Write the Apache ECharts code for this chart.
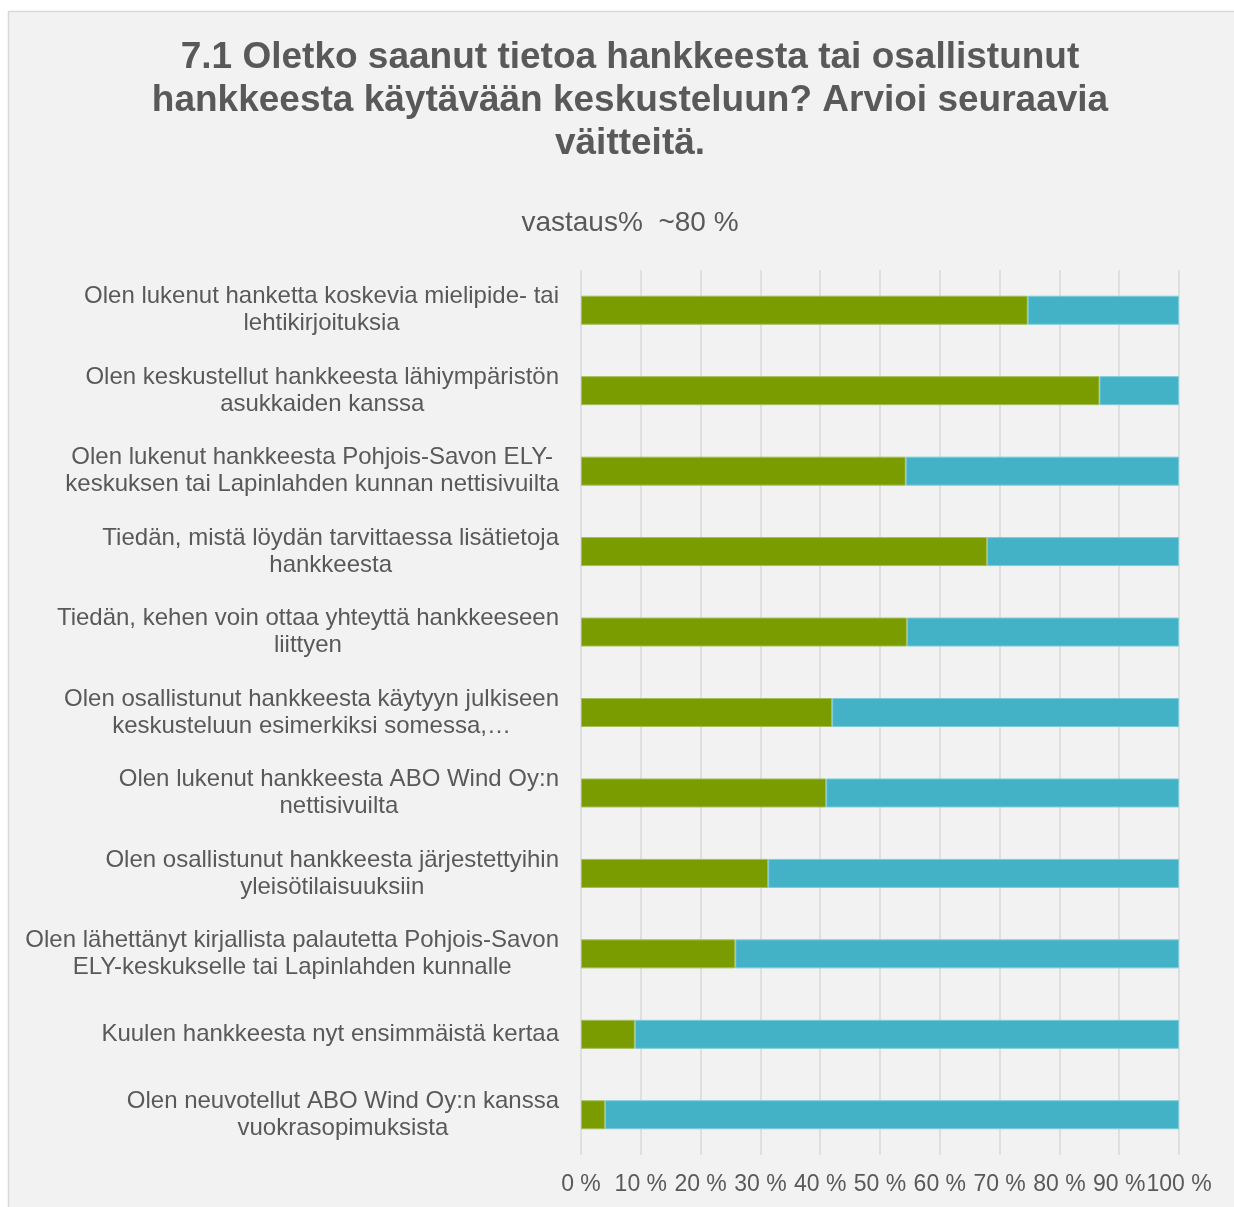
<!DOCTYPE html>
<html><head><meta charset="utf-8">
<script src="https://cdn.jsdelivr.net/npm/echarts@6/dist/echarts.min.js"></script>
<style>html,body{margin:0;padding:0;background:#fff;}#c{width:1234px;height:1207px;}</style>
</head><body><div id="c"></div>
<script>
const categories = [
  "Olen lukenut hanketta koskevia mielipide- tai\nlehtikirjoituksia",
  "Olen keskustellut hankkeesta lähiympäristön\nasukkaiden kanssa",
  "Olen lukenut hankkeesta Pohjois-Savon ELY-\nkeskuksen tai Lapinlahden kunnan nettisivuilta",
  "Tiedän, mistä löydän tarvittaessa lisätietoja\nhankkeesta",
  "Tiedän, kehen voin ottaa yhteyttä hankkeeseen\nliittyen",
  "Olen osallistunut hankkeesta käytyyn julkiseen\nkeskusteluun esimerkiksi somessa,…",
  "Olen lukenut hankkeesta ABO Wind Oy:n\nnettisivuilta",
  "Olen osallistunut hankkeesta järjestettyihin\nyleisötilaisuuksiin",
  "Olen lähettänyt kirjallista palautetta Pohjois-Savon\nELY-keskukselle tai Lapinlahden kunnalle",
  "Kuulen hankkeesta nyt ensimmäistä kertaa",
  "Olen neuvotellut ABO Wind Oy:n kanssa\nvuokrasopimuksista"
];
const yesValues = [74.7, 86.7, 54.3, 67.9, 54.5, 42.0, 41.0, 31.3, 25.8, 9.0, 4.0];
const noValues = yesValues.map(v => +(100 - v).toFixed(1));
const xTicks = [0, 10, 20, 30, 40, 50, 60, 70, 80, 90, 100];

const chart = echarts.init(document.getElementById('c'), null, {renderer: 'canvas'});
const font = '"Liberation Sans", Arial, sans-serif';
chart.setOption({
  backgroundColor: '#ffffff',
  animation: false,
  graphic: [{
    type: 'rect', z: -10, silent: true,
    shape: {x: 8.5, y: 11.5, width: 1240, height: 1210},
    style: {fill: '#f2f2f2', stroke: '#d9d9d9', lineWidth: 1.5}
  }],
  title: [{
    text: '7.1 Oletko saanut tietoa hankkeesta tai osallistunut\nhankkeesta käytävään keskusteluun? Arvioi seuraavia\nväitteitä.',
    left: 625, textAlign: 'center', top: 31,
    textStyle: {fontFamily: font, fontSize: 37, fontWeight: 'bold', color: '#595959', lineHeight: 43}
  }, {
    text: 'vastaus%  ~80 %',
    left: 625, textAlign: 'center', top: 204,
    textStyle: {fontFamily: font, fontSize: 28, fontWeight: 'normal', color: '#595959'}
  }],
  grid: {left: 581, right: 55, top: 270, bottom: 52, containLabel: false},
  xAxis: {
    type: 'value', min: 0, max: 100, interval: 10,
    axisLine: {show: false}, axisTick: {show: false},
    splitLine: {show: true, lineStyle: {color: '#d9d9d9', width: 1.5}},
    axisLabel: {fontFamily: font, fontSize: 23, color: '#595959', margin: 18,
      formatter: v => xTicks.includes(v) ? v + ' %' : ''}
  },
  yAxis: {
    type: 'category', data: categories, inverse: true,
    axisLine: {show: false}, axisTick: {show: false},
    axisLabel: {
      margin: 22, align: 'right',
      formatter: v => v.split('\n').map(l => '{c|' + l + '}').join('\n'),
      rich: {c: {fontFamily: font, fontSize: 24, color: '#595959', align: 'center', lineHeight: 27}}
    }
  },
  series: [{
    name: 'Kyllä', type: 'bar', stack: 's', data: yesValues, barWidth: 29,
    itemStyle: {color: '#7a9c00', borderColor: '#a3be58', borderWidth: 1}
  }, {
    name: 'Ei', type: 'bar', stack: 's', data: noValues, barWidth: 29,
    itemStyle: {color: '#43b2c6', borderColor: '#7ccbda', borderWidth: 1}
  }]
});
</script></body></html>
